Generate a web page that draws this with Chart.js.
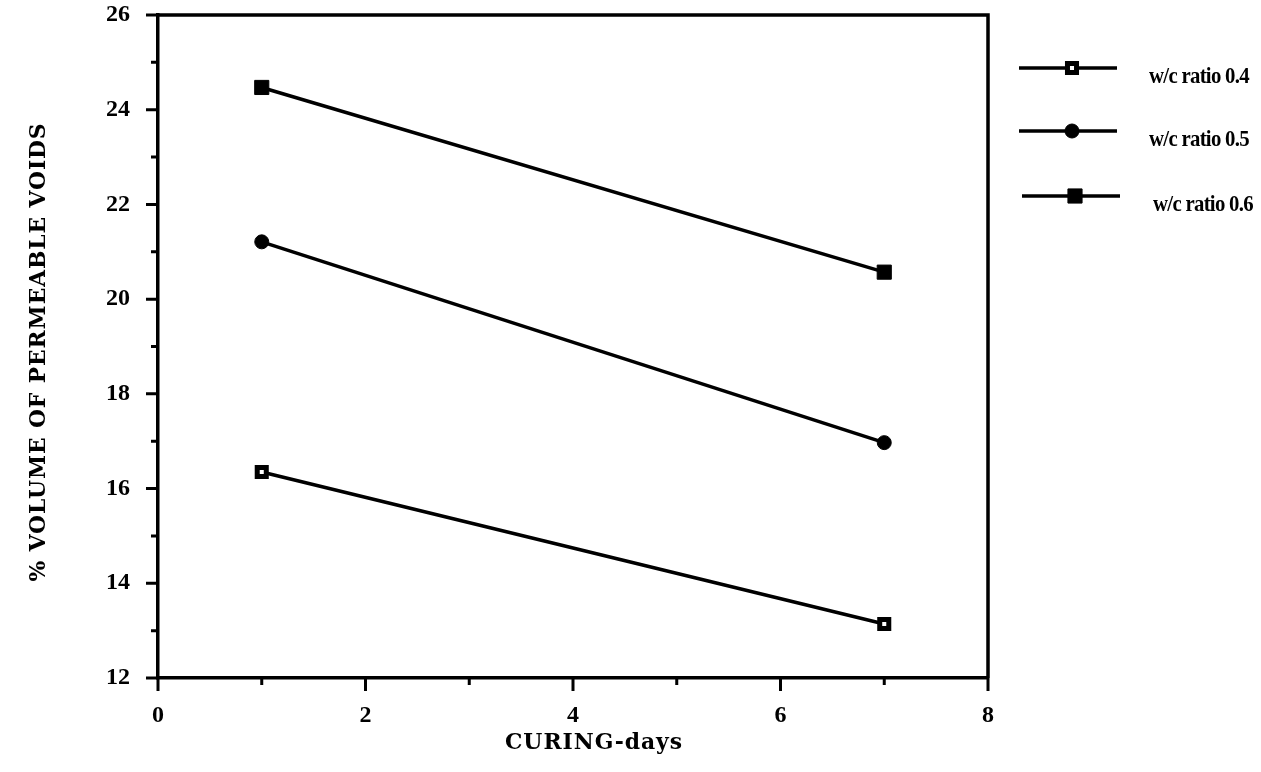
<!DOCTYPE html>
<html>
<head>
<meta charset="utf-8">
<style>
  html, body { margin: 0; padding: 0; background: #fff; }
  #wrap { width: 1261px; height: 772px; }
</style>
<script src="https://cdn.jsdelivr.net/npm/chart.js@4.4.1/dist/chart.umd.min.js"></script>
</head>
<body>
<div id="wrap"><canvas id="voids-chart" width="1261" height="772"></canvas></div>
<script>
// curing days on x, % volume of permeable voids on y
const curingDays = [1, 7];
const seriesNames = ['w/c ratio 0.4', 'w/c ratio 0.5', 'w/c ratio 0.6'];
const wc04 = [16.35, 13.14];
const wc05 = [21.21, 16.97];
const wc06 = [24.47, 20.57];
const xTicks = [0, 1, 2, 3, 4, 5, 6, 7, 8];
const yTicks = [12, 13, 14, 15, 16, 17, 18, 19, 20, 21, 22, 23, 24, 25, 26];

const serif = '"Liberation Serif", "Times New Roman", serif';
const slab = '"DejaVu Serif", serif';

function pts(vals) {
    return curingDays.map((d, i) => ({ x: d, y: vals[i] }));
}

// draw centred text squeezed/stretched to a given width
function fitText(ctx, text, w) {
    const m = ctx.measureText(text).width;
    ctx.save();
    ctx.scale(w / m, 1);
    ctx.fillText(text, 0, 0);
    ctx.restore();
}

// ticks, frame, axis titles and the side legend
const decorations = {
    id: 'decorations',
    afterDraw(chart) {
        const ctx = chart.ctx;
        const area = chart.chartArea;
        const xs = chart.scales.x, ys = chart.scales.y;
        ctx.save();
        ctx.strokeStyle = '#000';
        ctx.lineWidth = 3.5;
        ctx.lineCap = 'butt';

        // frame top + right
        ctx.beginPath();
        ctx.moveTo(area.left, area.top);
        ctx.lineTo(area.right, area.top);
        ctx.lineTo(area.right, area.bottom);
        ctx.stroke();

        // tick marks, long on even values
        ctx.lineWidth = 3;
        ctx.beginPath();
        yTicks.forEach(v => {
            const py = ys.getPixelForValue(v);
            const len = v % 2 === 0 ? 12 : 7;
            ctx.moveTo(area.left, py);
            ctx.lineTo(area.left - len, py);
        });
        xTicks.forEach(v => {
            const px = xs.getPixelForValue(v);
            const len = v % 2 === 0 ? 13 : 7;
            ctx.moveTo(px, area.bottom);
            ctx.lineTo(px, area.bottom + len);
        });
        ctx.stroke();

        // axis titles
        ctx.fillStyle = '#000';
        ctx.font = 'bold 23px ' + slab;
        ctx.textAlign = 'center';
        ctx.textBaseline = 'alphabetic';
        ctx.letterSpacing = '1px';

        ctx.save();
        ctx.translate(594, 749);
        fitText(ctx, 'CURING-days', 178);
        ctx.restore();

        ctx.save();
        ctx.translate(45, 352);
        ctx.rotate(-Math.PI / 2);
        fitText(ctx, '% VOLUME OF PERMEABLE VOIDS', 459);
        ctx.restore();
        ctx.letterSpacing = '0px';

        // legend
        const rows = [
            { y: 68, x0: 1019, x1: 1117, mx: 1072, tx: 1149 },
            { y: 131, x0: 1019, x1: 1117, mx: 1072, tx: 1149 },
            { y: 196, x0: 1022, x1: 1120, mx: 1075, tx: 1153 }
        ];
        chart.data.datasets.forEach((ds, i) => {
            const r = rows[i];
            ctx.strokeStyle = ds.borderColor;
            ctx.lineWidth = 3.5;
            ctx.beginPath();
            ctx.moveTo(r.x0, r.y);
            ctx.lineTo(r.x1, r.y);
            ctx.stroke();

            ctx.fillStyle = ds.pointBackgroundColor;
            ctx.strokeStyle = ds.pointBorderColor;
            ctx.lineWidth = ds.pointBorderWidth;
            Chart.helpers.drawPoint(ctx, {
                pointStyle: ds.pointStyle,
                radius: ds.pointRadius,
                borderWidth: ds.pointBorderWidth,
                rotation: 0
            }, r.mx, r.y);

            ctx.save();
            ctx.fillStyle = '#000';
            ctx.font = 'bold 24px ' + serif;
            ctx.textAlign = 'left';
            ctx.letterSpacing = '-0.8px';
            ctx.translate(r.tx, r.y + 15);
            const w = ctx.measureText(ds.label).width;
            ctx.scale(100 / w, 1);
            ctx.fillText(ds.label, 0, 0);
            ctx.restore();
        });

        ctx.restore();
    }
};

const ctx1 = document.getElementById('voids-chart').getContext('2d');
const voidsChart = new Chart(ctx1, {
    type: 'line',
    data: {
        datasets: [{
            label: seriesNames[0],
            data: pts(wc04),
            borderColor: '#000',
            borderWidth: 3.5,
            pointStyle: 'rect',
            pointRadius: 6.4,
            pointBorderWidth: 5,
            pointBackgroundColor: '#fff',
            pointBorderColor: '#000'
        }, {
            label: seriesNames[1],
            data: pts(wc05),
            borderColor: '#000',
            borderWidth: 3.5,
            pointStyle: 'circle',
            pointRadius: 7,
            pointBorderWidth: 1,
            pointBackgroundColor: '#000',
            pointBorderColor: '#000'
        }, {
            label: seriesNames[2],
            data: pts(wc06),
            borderColor: '#000',
            borderWidth: 3.5,
            pointStyle: 'rect',
            pointRadius: 10,
            pointBorderWidth: 1,
            pointBackgroundColor: '#000',
            pointBorderColor: '#000'
        }]
    },
    options: {
        responsive: false,
        animation: false,
        layout: { padding: { left: 0, top: 15, right: 273, bottom: 0 } },
        plugins: {
            legend: { display: false },
            tooltip: { enabled: false }
        },
        scales: {
            x: {
                type: 'linear',
                min: 0,
                max: 8,
                grid: { display: false },
                border: { display: true, color: '#000', width: 3.5 },
                ticks: {
                    stepSize: 2,
                    padding: 15,
                    color: '#000',
                    font: { family: serif, size: 24, weight: 'bold' }
                },
                afterFit(scale) {
                    scale.height = 94;
                    scale.paddingLeft = 0;
                    scale.paddingRight = 0;
                }
            },
            y: {
                type: 'linear',
                min: 12,
                max: 26,
                grid: { display: false },
                border: { display: true, color: '#000', width: 3.5 },
                ticks: {
                    stepSize: 2,
                    padding: 20,
                    color: '#000',
                    font: { family: serif, size: 24, weight: 'bold' }
                },
                afterFit(scale) {
                    scale.width = 158;
                    scale.paddingTop = 0;
                    scale.paddingBottom = 0;
                }
            }
        }
    },
    plugins: [decorations]
});
</script>
</body>
</html>
